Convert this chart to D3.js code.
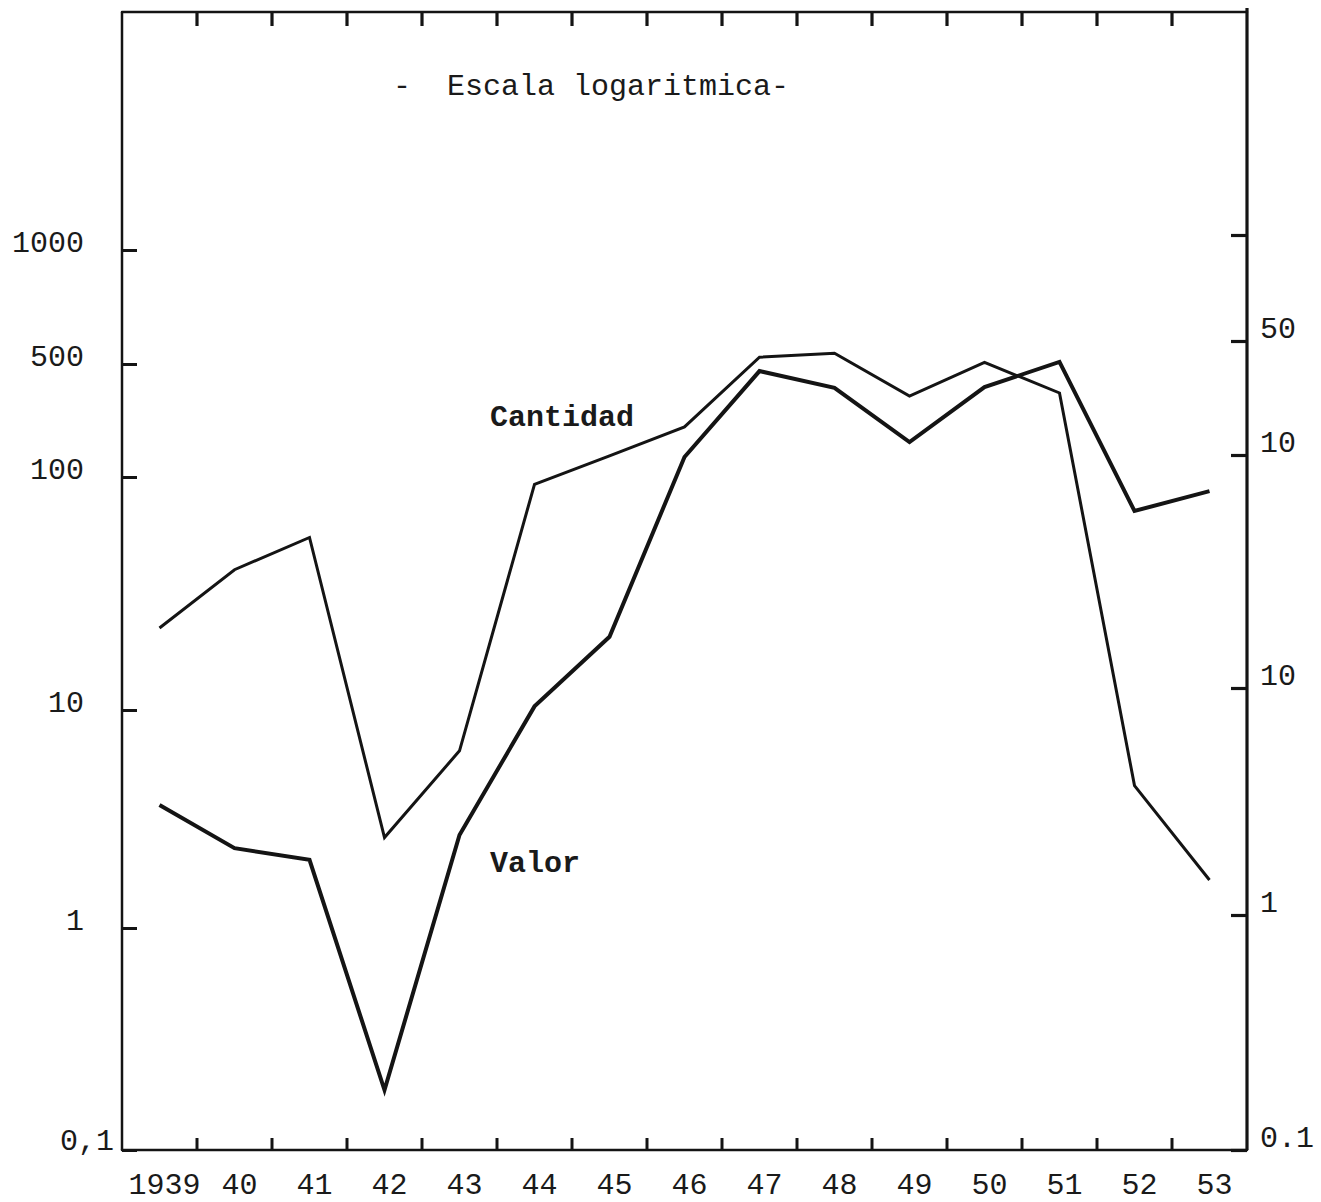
<!DOCTYPE html>
<html><head><meta charset="utf-8">
<script src="https://cdn.jsdelivr.net/npm/d3@7/dist/d3.min.js"></script>
<style>
body{margin:0;background:#fff}
text{font-family:"Liberation Mono","DejaVu Sans Mono",monospace;fill:#1a1a1a}
</style>
</head><body>
<svg id="c" width="1321" height="1202"></svg>
<script>
// ---- data ----
const years = [1939,1940,1941,1942,1943,1944,1945,1946,1947,1948,1949,1950,1951,1952,1953];
const yearLabels = ["1939","40","41","42","43","44","45","46","47","48","49","50","51","52","53"];
// Cantidad, in units of the left axis
const cantidad = [22.5,40,55,2.6,6.5,93,135,204,521,534,317,505,331,4.5,1.66];
// Valor, in units of the right axis
const valor = [3.05,1.97,1.75,0.18,2.25,8.3,16.6,98,327,258,120,261,372,57.5,70];
const leftTickValues = [0.1,1,10,100,500,1000];
const leftTickLabels = ["0,1","1","10","100","500","1000"];
const rightTickValues = [0.1,1,10,100,500,1000];
const rightTickLabels = ["0.1","1","10","10","50",""];
const titleText = "-  Escala logaritmica-";
const seriesLabels = ["Cantidad","Valor"];

// ---- layout ----
const L = 122, R = 1247, T = 12, B = 1150;
const svg = d3.select("#c");
const ink = "#141414";

const x = d3.scaleBand().domain(years).range([L, R]);
const cx = d => x(d) + x.bandwidth() / 2;
// hand-drawn logarithmic axes (tick spacing as drawn on the original)
const yL = d3.scaleLog().domain([0.1,1,10,100,500,1000]).range([B,928,710,477,364,250]);
const yR = d3.scaleLog().domain([0.1,1,10,100,500,1000]).range([B,915,688,455,341,235]);

// frame
const frame = svg.append("g").attr("stroke", ink).attr("fill","none").attr("stroke-linecap","round");
frame.append("line").attr("x1",L).attr("x2",R).attr("y1",T).attr("y2",T).attr("stroke-width",2.5);
frame.append("line").attr("x1",L).attr("x2",R).attr("y1",B).attr("y2",B).attr("stroke-width",2.5);

// left axis
const gl = svg.append("g").attr("transform",`translate(${L},0)`)
  .call(d3.axisLeft(yL).tickValues(leftTickValues).tickFormat((d,i)=>leftTickLabels[i])
    .tickSizeInner(-15).tickSizeOuter(0).tickPadding(38));
gl.select(".domain").remove();
gl.append("line").attr("x1",0).attr("x2",0).attr("y1",T).attr("y2",B).attr("stroke",ink).attr("stroke-width",2.5);
gl.selectAll(".tick line").attr("stroke",ink).attr("stroke-width",3);
gl.selectAll(".tick text").attr("font-size",30).attr("fill",ink)
  .attr("font-family","'Liberation Mono',monospace")
  .attr("transform",d=>d===0.1 ? "translate(30,-10)" : "translate(0,-8)");

// right axis
const gr = svg.append("g").attr("transform",`translate(${R},0)`)
  .call(d3.axisRight(yR).tickValues(rightTickValues).tickFormat((d,i)=>rightTickLabels[i])
    .tickSizeInner(-16).tickSizeOuter(0).tickPadding(13));
gr.select(".domain").remove();
gr.append("line").attr("x1",0).attr("x2",0).attr("y1",T-4).attr("y2",B).attr("stroke",ink).attr("stroke-width",3.2);
gr.selectAll(".tick line").attr("stroke",ink).attr("stroke-width",3.2);
gr.selectAll(".tick text").attr("font-size",30).attr("fill",ink)
  .attr("font-family","'Liberation Mono',monospace").attr("transform","translate(0,-13)");

// x ticks at band boundaries (bottom pointing up, top pointing down)
const bounds = years.slice(1);
svg.append("g").selectAll("line").data(bounds).join("line")
  .attr("x1",d=>x(d)).attr("x2",d=>x(d)).attr("y1",B).attr("y2",B-12)
  .attr("stroke",ink).attr("stroke-width",3);
svg.append("g").selectAll("line").data(bounds).join("line")
  .attr("x1",d=>x(d)).attr("x2",d=>x(d)).attr("y1",T).attr("y2",T+14)
  .attr("stroke",ink).attr("stroke-width",3.2);

// year labels
svg.append("g").selectAll("text").data(years).join("text")
  .attr("x",d=>cx(d)+5).attr("y",B+44).attr("text-anchor","middle")
  .attr("font-size",30).text((d,i)=>yearLabels[i]);

// lines
const lineL = d3.line().x(d=>cx(d.year)).y(d=>yL(d.v));
const lineR = d3.line().x(d=>cx(d.year)).y(d=>yR(d.v));
svg.append("path").datum(years.map((y,i)=>({year:y,v:cantidad[i]})))
  .attr("d",lineL).attr("fill","none").attr("stroke",ink).attr("stroke-width",3)
  .attr("stroke-linejoin","miter");
svg.append("path").datum(years.map((y,i)=>({year:y,v:valor[i]})))
  .attr("d",lineR).attr("fill","none").attr("stroke",ink).attr("stroke-width",4)
  .attr("stroke-linejoin","miter");

// texts
svg.append("text").attr("x",393).attr("y",95).attr("font-size",30)
  .style("white-space","pre").text(titleText);
svg.append("text").attr("x",490).attr("y",426).attr("font-size",30).attr("font-weight","bold").text(seriesLabels[0]);
svg.append("text").attr("x",490).attr("y",872).attr("font-size",30).attr("font-weight","bold").text(seriesLabels[1]);
</script>
</body></html>
